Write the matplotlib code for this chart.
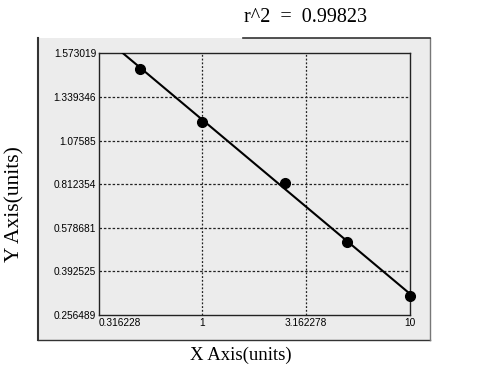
import numpy as np
import matplotlib
matplotlib.use("Agg")
import matplotlib.pyplot as plt
from matplotlib.lines import Line2D
from matplotlib.patches import Rectangle

# tick labels of the standard curve axes
x_ticks = [0.316228, 1, 3.162278, 10]
x_labels = ["0.316228", "1", "3.162278", "10"]
y_ticks = [0.256489, 0.392525, 0.578681, 0.812354, 1.07585, 1.339346, 1.573019]
y_labels = ["0.256489", "0.392525", "0.578681", "0.812354", "1.07585", "1.339346", "1.573019"]

# measured standards
conc = [0.5, 1, 2.5, 5, 10]
od = [1.489, 1.189, 0.821, 0.519, 0.316]
r2_text = "r^2  =  0.99823"

W, H = 504, 375
pos = np.arange(len(y_ticks), dtype=float)
yt = np.array(y_ticks)


def fwd(v):
    v = np.asarray(v, dtype=float)
    p = np.interp(v, yt, pos)
    lo = v < yt[0]
    hi = v > yt[-1]
    p = np.where(lo, (v - yt[0]) / (yt[1] - yt[0]), p)
    p = np.where(hi, pos[-1] + (v - yt[-1]) / (yt[-1] - yt[-2]), p)
    return p


def inv(p):
    p = np.asarray(p, dtype=float)
    v = np.interp(p, pos, yt)
    v = np.where(p < 0, yt[0] + p * (yt[1] - yt[0]), v)
    v = np.where(p > pos[-1], yt[-1] + (p - pos[-1]) * (yt[-1] - yt[-2]), v)
    return v


fig = plt.figure(figsize=(W / 100, H / 100), dpi=100)
fig.patch.set_facecolor("white")

# grey panel behind the plot
px0, py0, px1, py1 = 38, 38, 430, 340
fig.patches.append(Rectangle((px0 / W, 1 - py1 / H), (px1 - px0) / W, (py1 - py0) / H,
                             transform=fig.transFigure, facecolor="#ececec",
                             edgecolor="none", zorder=0))
edge = dict(transform=fig.transFigure, zorder=1)
fig.lines.append(Line2D([px0 / W, px0 / W], [1 - py0 / H, 1 - py1 / H], color="#333333", lw=1.5, **edge))
fig.lines.append(Line2D([px0 / W, px1 / W], [1 - py1 / H, 1 - py1 / H], color="#333333", lw=1.0, **edge))
fig.lines.append(Line2D([px1 / W, px1 / W], [1 - py0 / H, 1 - py1 / H], color="#777777", lw=1.0, **edge))
fig.lines.append(Line2D([243 / W, px1 / W], [1 - py0 / H, 1 - py0 / H], color="#333333", lw=1.2, **edge))

ax = fig.add_axes([99 / W, 1 - 315 / H, (409.5 - 99) / W, (315 - 53.3) / H])
ax.set_zorder(3)
ax.set_facecolor("#ececec")
ax.set_xscale("log")
ax.set_yscale("function", functions=(fwd, inv))
ax.set_xlim(x_ticks[0], x_ticks[-1])
ax.set_ylim(y_ticks[0], y_ticks[-1])

ax.set_xticks(x_ticks)
ax.set_xticklabels(x_labels)
ax.xaxis.set_minor_locator(matplotlib.ticker.NullLocator())
ax.set_yticks(y_ticks)
ax.set_yticklabels(y_labels)
ax.yaxis.set_minor_locator(matplotlib.ticker.NullLocator())
ax.tick_params(length=0, pad=2, labelsize=7.3)
for lab in ax.get_xticklabels() + ax.get_yticklabels():
    lab.set_family("Liberation Sans")
ax.get_xticklabels()[0].set_horizontalalignment("left")

for t in x_ticks[1:-1]:
    ax.axvline(t, color="#222222", lw=0.9, ls=(0, (1.5, 1.5)), zorder=1)
for t in y_ticks[1:-1]:
    ax.axhline(t, color="#222222", lw=0.9, ls=(0, (2, 1.5)), zorder=1)

for s in ax.spines.values():
    s.set_color("#222222")
    s.set_linewidth(1.0)

# linear fit in log-x / axis-position space
lx = np.log10(conc)
b, a = np.polyfit(lx, fwd(od), 1)
xf = np.logspace(np.log10(x_ticks[0]), np.log10(x_ticks[-1]), 50)
ax.plot(xf, inv(a + b * np.log10(xf)), color="black", lw=1.5, zorder=3)
ax.plot(conc, od, "o", color="black", ms=7, zorder=4, clip_on=False)

fig.text(305 / W, 1 - 18 / H, r2_text, ha="center", va="center",
         family="Liberation Serif", fontsize=14.5)
fig.text(241 / W, 1 - 355 / H, "X Axis(units)", ha="center", va="center",
         family="Liberation Serif", fontsize=13.5)
fig.text(15 / W, 1 - 204 / H, "Y Axis(units)", ha="center", va="center",
         rotation=90, family="Liberation Serif", fontsize=15.5)

fig.savefig("out.png", dpi=100)
